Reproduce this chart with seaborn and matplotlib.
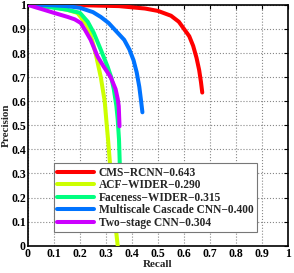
import matplotlib
matplotlib.use('Agg')
import matplotlib.pyplot as plt
import numpy as np
import pandas as pd
import seaborn as sns

# ─── DATA ─────────────────────────────────────────────────────────────────────
cms_recall = [0.0, 0.20, 0.35, 0.45, 0.50, 0.55, 0.58, 0.60, 0.62, 0.635, 0.648, 0.658, 0.665, 0.670]
cms_prec   = [1.0, 0.999, 0.995, 0.985, 0.975, 0.955, 0.93, 0.90, 0.87, 0.83, 0.78, 0.73, 0.68, 0.636]

acf_recall = [0.0, 0.05, 0.10, 0.15, 0.19, 0.21, 0.23, 0.245, 0.26, 0.28, 0.295, 0.303,
              0.308, 0.318, 0.33, 0.345]
acf_prec   = [1.0, 0.998, 0.99, 0.98, 0.967, 0.94, 0.91, 0.86, 0.80, 0.70, 0.60, 0.50,
              0.44, 0.306, 0.15, 0.0]

face_recall = [0.0, 0.088, 0.15, 0.20, 0.23, 0.253, 0.28, 0.306, 0.32, 0.33, 0.34, 0.345,
               0.35, 0.354, 0.36]
face_prec   = [1.0, 0.99, 0.98, 0.967, 0.93, 0.884, 0.814, 0.744, 0.70, 0.65, 0.58, 0.525,
               0.442, 0.306, 0.15]

msc_recall = [0.0, 0.05, 0.10, 0.15, 0.20, 0.25, 0.28, 0.31, 0.345, 0.37, 0.39, 0.406,
              0.418, 0.428, 0.435, 0.44]
msc_prec   = [1.0, 1.0, 0.998, 0.995, 0.988, 0.97, 0.95, 0.925, 0.884, 0.855, 0.815, 0.77,
              0.72, 0.66, 0.60, 0.554]

two_recall = [0.0, 0.03, 0.061, 0.10, 0.153, 0.18, 0.203, 0.22, 0.241, 0.268, 0.291, 0.318,
              0.337, 0.345, 0.349, 0.352]
two_prec   = [1.0, 0.99, 0.98, 0.967, 0.95, 0.94, 0.925, 0.895, 0.855, 0.785, 0.744, 0.70,
              0.65, 0.61, 0.58, 0.496]

labels = ['CMS\u2212RCNN\u22120.643', 'ACF\u2212WIDER\u22120.290',
          'Faceness\u2212WIDER\u22120.315', 'Multiscale Cascade CNN\u22120.400',
          'Two\u2212stage CNN\u22120.304']
colors = ['#ff0000', '#ccff00', '#00ff80', '#0073ff', '#cc00ff']

curves = [(cms_recall, cms_prec), (acf_recall, acf_prec), (face_recall, face_prec),
          (msc_recall, msc_prec), (two_recall, two_prec)]

# ─── PLOT ─────────────────────────────────────────────────────────────────────
sns.set_style('white')
plt.rcParams['font.family'] = ['Liberation Serif', 'DejaVu Serif']
plt.rcParams['font.weight'] = 'bold'

fig = plt.figure(figsize=(2.94, 2.73), dpi=100)
ax = fig.add_axes([0.095, 0.1, 0.885, 0.882])

for (rx, py), lab, col in zip(curves, labels, colors):
    df = pd.DataFrame({'Recall': rx, 'Precision': py})
    sns.lineplot(data=df, x='Recall', y='Precision', sort=False, color=col,
                 lw=2.9, label=lab, ax=ax, zorder=3)

ax.set_xlim(0, 1); ax.set_ylim(0, 1)
ticks = np.round(np.arange(0, 1.01, 0.1), 1)
tick_lbls = ['0'] + [f'{t:g}' for t in ticks[1:-1]] + ['1']
ax.set_xticks(ticks); ax.set_xticklabels(tick_lbls)
ax.set_yticks(ticks); ax.set_yticklabels(tick_lbls)
ax.tick_params(direction='in', length=3, width=0.8, top=True, right=True,
               labelsize=8.5, pad=1.5, colors='black')
ax.grid(True, linestyle=':', color='#888888', lw=0.8)
for s in ax.spines.values():
    s.set_visible(True); s.set_color('black'); s.set_linewidth(1.2)
ax.set_xlabel('Recall', fontsize=8, fontweight='bold', labelpad=0.5)
ax.set_ylabel('Precision', fontsize=8, fontweight='bold', labelpad=0.5)

leg = ax.legend(loc='lower left', bbox_to_anchor=(0.1, 0.055), fontsize=8.3,
                handlelength=3.2, handletextpad=0.4, labelspacing=0.05,
                borderpad=0.3, borderaxespad=0, fancybox=False, framealpha=1,
                edgecolor='#777777')
for t in leg.get_texts():
    t.set_fontweight('bold')
leg.get_frame().set_linewidth(0.8)

plt.savefig('out.png', dpi=100)
plt.close()
